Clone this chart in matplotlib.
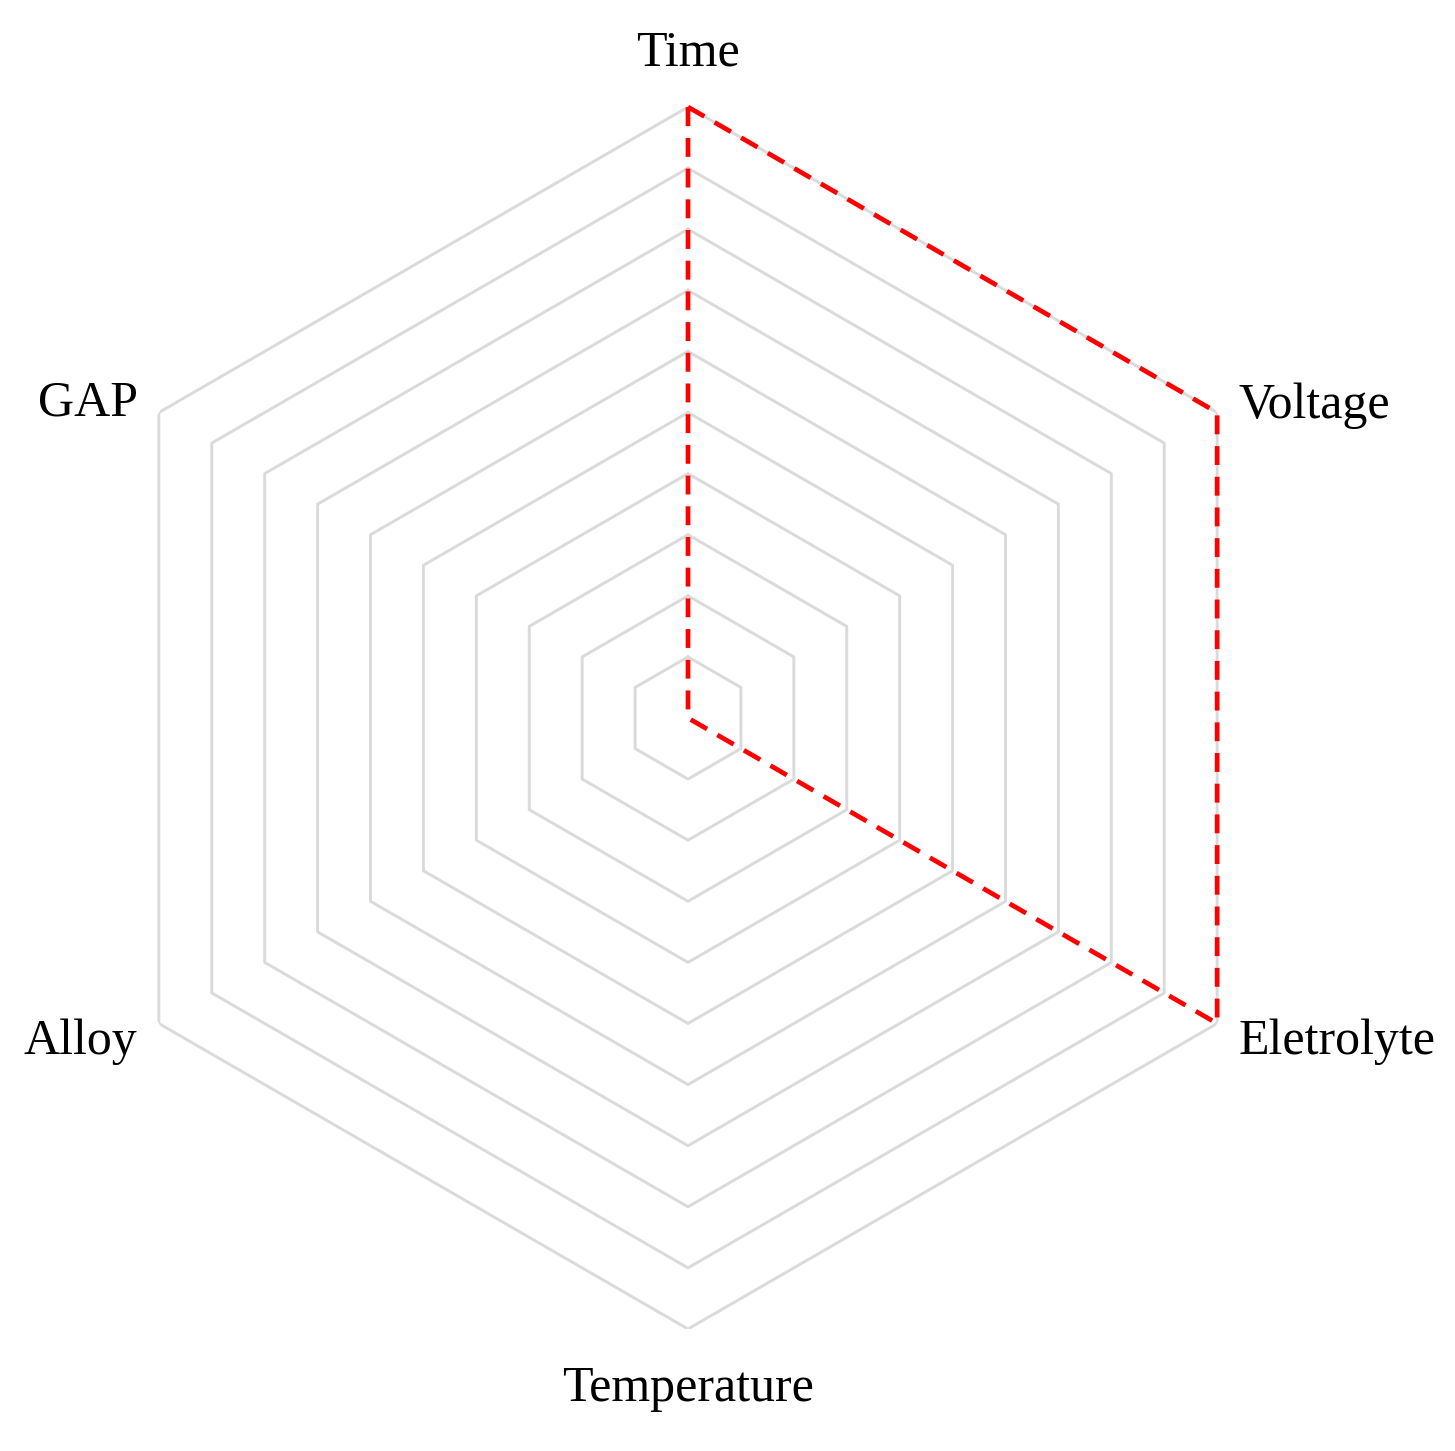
import numpy as np
import matplotlib.pyplot as plt

# radar data
categories = ['Time', 'Voltage', 'Eletrolyte', 'Temperature', 'Alloy', 'GAP']
values = [1, 1, 1, 0, 0, 0]
ring_levels = [0.1, 0.2, 0.3, 0.4, 0.5, 0.6, 0.7, 0.8, 0.9, 1.0]

plt.rcParams['font.family'] = ['Liberation Serif', 'DejaVu Serif']

n = len(categories)
angles = np.linspace(0, 2 * np.pi, n, endpoint=False)
closed_angles = np.append(angles, angles[0])

fig = plt.figure(figsize=(14.55, 14.51), dpi=100)
cx, cy = 688 / 1455, 1 - 718 / 1451
w, h = 1222 / 1455, 1222 / 1451
ax = fig.add_axes([cx - w / 2, cy - h / 2, w, h], projection='polar')
ax.set_theta_offset(np.pi / 2)
ax.set_theta_direction(-1)
ax.set_ylim(0, 1)
ax.grid(False)
ax.spines['polar'].set_visible(False)
ax.set_xticks([])
ax.set_yticks([])

# hexagon rings
for lev in ring_levels:
    ax.plot(closed_angles, [lev] * (n + 1), color='#dadada', lw=2.1, zorder=1)

vals = values + values[:1]
ax.plot(closed_angles, vals, color='#ff0000', lw=3.4, ls=(0, (4, 2.5)), zorder=3,
        clip_on=False)

# axis labels
align = [('center', 'bottom', 1.05), ('left', 'center', 1.04), ('left', 'center', 1.04),
         ('center', 'top', 1.06), ('right', 'center', 1.04), ('right', 'center', 1.04)]
offsets = [0, -5, -6, 0, -6, -3]
for ang, lab, (ha, va, r), dy in zip(angles, categories, align, offsets):
    ax.annotate(lab, xy=(ang, r), xytext=(0, dy), textcoords='offset pixels',
                ha=ha, va=va, fontsize=36, annotation_clip=False)

fig.savefig('out.png', dpi=100, facecolor='white')
